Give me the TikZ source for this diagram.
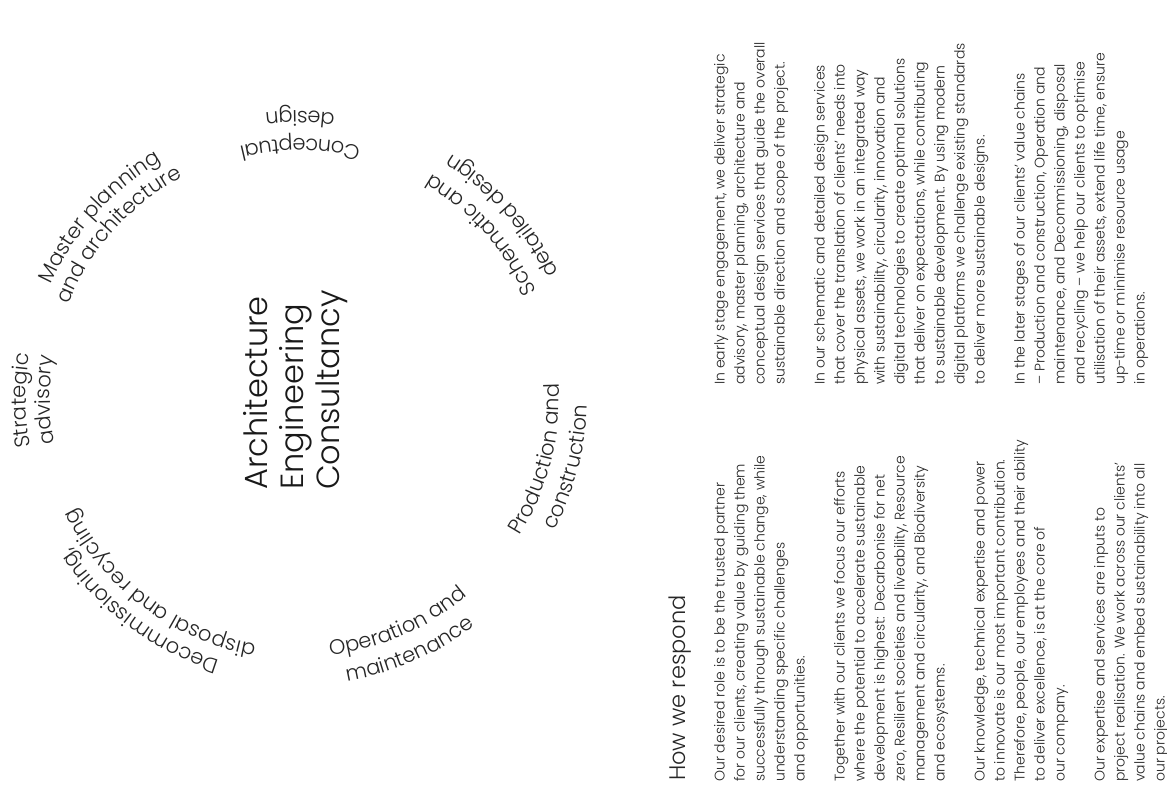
\documentclass[tikz,border=0pt]{standalone}
\usepackage{fontspec}
\IfFontExistsTF{Poppins Light}
  {\setmainfont{Poppins Light}}
  {\setmainfont{Poppins}}
\usepackage{tikz}
\usetikzlibrary{decorations.text}

\newcommand{\bodysize}{\fontsize{14}{20}\selectfont}
\newcommand{\ringsize}{\fontsize{21}{25}\selectfont}

\begin{document}
\begin{tikzpicture}[
    x=1pt, y=1pt,
    para/.style={
        rotate=90,
        anchor=north west,
        inner sep=0pt,
        align=left,
        font=\bodysize,
        text=black!85
    },
    ringtext/.style={
        decorate,
        decoration={
            text along path,
            text align=center,
            text color=black!85,
            text={|\ringsize|#1}
        }
    }
]
  \path[use as bounding box] (0,0) rectangle (1167,-787);
  \coordinate (hub) at (300,-398);

  % centre of the ring
  \node[rotate=90, anchor=north west, inner sep=0pt, align=left,
        font=\fontsize{32}{36}\selectfont, text=black!90] (core) at (243,-490)
    {Architecture\\Engineering\\Consultancy};

  % stages, read clockwise (tops outward)
  \path[ringtext={Strategic}, shift={(hub)}] (240.5:274pt) arc[start angle=240.5, end angle=120.5, radius=274pt];
  \path[ringtext={advisory}, shift={(hub)}] (240.5:250pt) arc[start angle=240.5, end angle=120.5, radius=250pt];
  \path[ringtext={Master planning}, shift={(hub)}] (198:274pt) arc[start angle=198, end angle=78, radius=274pt];
  \path[ringtext={and architecture}, shift={(hub)}] (198:250pt) arc[start angle=198, end angle=78, radius=250pt];
  \path[ringtext={Decommissioning,}, shift={(hub)}] (293:274pt) arc[start angle=293, end angle=173, radius=274pt];
  \path[ringtext={disposal and recycling}, shift={(hub)}] (293:250pt) arc[start angle=293, end angle=173, radius=250pt];

  % stages, read anticlockwise (tops inward)
  \path[ringtext={Conceptual}, shift={(hub)}] (30:259pt) arc[start angle=30, end angle=150, radius=259pt];
  \path[ringtext={design}, shift={(hub)}] (30:287pt) arc[start angle=30, end angle=150, radius=287pt];
  \path[ringtext={Schematic and}, shift={(hub)}] (-18:259pt) arc[start angle=-18, end angle=102, radius=259pt];
  \path[ringtext={detailed design}, shift={(hub)}] (-18:287pt) arc[start angle=-18, end angle=102, radius=287pt];
  \path[ringtext={Production and}, shift={(hub)}] (-74.5:259pt) arc[start angle=-74.5, end angle=45.5, radius=259pt];
  \path[ringtext={construction}, shift={(hub)}] (-74.5:287pt) arc[start angle=-74.5, end angle=45.5, radius=287pt];
  \path[ringtext={Operation and}, shift={(hub)}] (-126.5:259pt) arc[start angle=-126.5, end angle=-6.5, radius=259pt];
  \path[ringtext={maintenance}, shift={(hub)}] (-126.5:287pt) arc[start angle=-126.5, end angle=-6.5, radius=287pt];

  % text columns
  \node[rotate=90, anchor=base west, inner sep=0pt, font=\fontsize{22.5}{26}\selectfont,
        text=black!85] (respond) at (685,-781) {How we respond};

  \node[para] (role) at (714,-782) {%
    Our desired role is to be the trusted partner\\
    for our clients, creating value by guiding them\\
    successfully through sustainable change, while\\
    understanding specific challenges\\
    and opportunities.\\[20pt]
    Together with our clients we focus our efforts\\
    where the potential to accelerate sustainable\\
    development is highest: Decarbonise for net\\
    zero, Resilient societies and liveability, Resource\\
    management and circularity, and Biodiversity\\
    and ecosystems.\\[20pt]
    Our knowledge, technical expertise and power\\
    to innovate is our most important contribution.\\
    Therefore, people, our employees and their ability\\
    to deliver excellence, is at the core of\\
    our company.\\[20pt]
    Our expertise and services are inputs to\\
    project realisation. We work across our clients'\\
    value chains and embed sustainability into all\\
    our projects.};

  \node[para] (stages) at (714,-385) {%
    In early stage engagement, we deliver strategic\\
    advisory, master planning, architecture and\\
    conceptual design services that guide the overall\\
    sustainable direction and scope of the project.\\[20pt]
    In our schematic and detailed design services\\
    that cover the translation of clients' needs into\\
    physical assets, we work in an integrated way\\
    with sustainability, circularity, innovation and\\
    digital technologies to create optimal solutions\\
    that deliver on expectations, while contributing\\
    to sustainable development. By using modern\\
    digital platforms we challenge existing standards\\
    to deliver more sustainable designs.\\[20pt]
    In the later stages of our clients' value chains\\
    -- Production and construction, Operation and\\
    maintenance, and Decommissioning, disposal\\
    and recycling -- we help our clients to optimise\\
    utilisation of their assets, extend life time, ensure\\
    up-time or minimise resource usage\\
    in operations.};
\end{tikzpicture}
\end{document}
